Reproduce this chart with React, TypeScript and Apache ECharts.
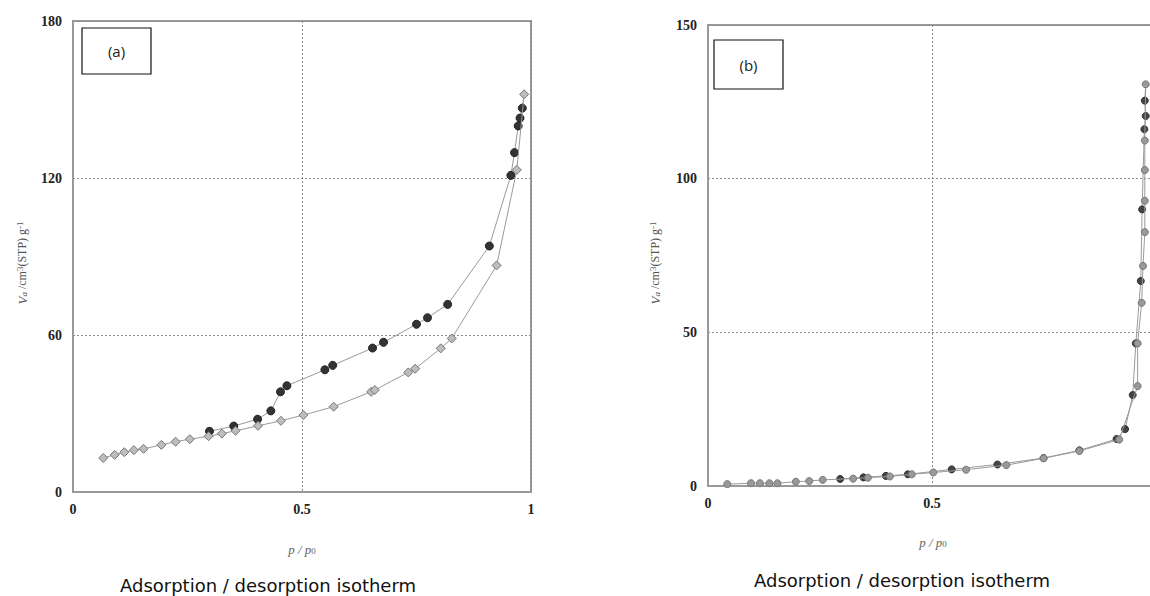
import React, { useEffect, useRef } from "react";
import * as echarts from "echarts";

// ---- Panel (a) ----
const A_ADS_P = [0.066, 0.091, 0.112, 0.133, 0.154, 0.193, 0.224, 0.255, 0.296, 0.325, 0.355, 0.404, 0.454, 0.503, 0.569, 0.651, 0.659, 0.732, 0.747, 0.803, 0.827, 0.925, 0.969, 0.985];
const A_ADS_V = [13.0, 14.2, 15.2, 16.0, 16.5, 18.0, 19.2, 20.2, 21.3, 22.3, 23.4, 25.3, 27.2, 29.4, 32.6, 38.3, 39.0, 45.7, 47.1, 54.9, 58.7, 86.6, 123.1, 152.0];
const A_DES_P = [0.985, 0.981, 0.976, 0.972, 0.964, 0.956, 0.909, 0.818, 0.774, 0.750, 0.678, 0.654, 0.567, 0.550, 0.467, 0.453, 0.432, 0.403, 0.351, 0.298];
const A_DES_V = [152.0, 146.7, 142.9, 139.9, 129.7, 121.0, 94.0, 71.7, 66.6, 64.1, 57.2, 55.0, 48.4, 46.7, 40.6, 38.3, 31.0, 27.8, 25.2, 23.2];

// ---- Panel (b) ----
const B_ADS_P = [0.043, 0.096, 0.116, 0.137, 0.155, 0.196, 0.226, 0.256, 0.324, 0.357, 0.406, 0.455, 0.503, 0.576, 0.666, 0.749, 0.829, 0.918, 0.959, 0.959, 0.968, 0.971, 0.975, 0.975, 0.975, 0.975, 0.977];
const B_ADS_V = [0.6, 0.9, 0.9, 0.9, 0.9, 1.4, 1.6, 2.0, 2.4, 2.7, 3.1, 3.8, 4.4, 5.3, 6.8, 9.0, 11.4, 15.1, 32.5, 46.4, 59.6, 71.6, 82.6, 92.8, 102.8, 112.4, 130.7];
const B_DES_P = [0.977, 0.975, 0.977, 0.974, 0.969, 0.966, 0.955, 0.948, 0.931, 0.912, 0.829, 0.749, 0.646, 0.544, 0.446, 0.397, 0.347, 0.295];
const B_DES_V = [130.7, 125.4, 120.4, 116.1, 90.0, 66.7, 46.4, 29.6, 18.5, 15.3, 11.6, 9.1, 7.0, 5.4, 3.8, 3.3, 2.8, 2.3];

const A_Y_TICKS = { min: 0, max: 180, interval: 60 };
const B_Y_TICKS = { min: 0, max: 150, interval: 50 };
const X_TICKS = { min: 0, max: 1, interval: 0.5 };

const TITLE = "Adsorption / desorption isotherm";

const zip = (xs: number[], ys: number[]) => xs.map((x, i) => [x, ys[i]]);

export default function App() {
  const ref = useRef<HTMLDivElement>(null);
  useEffect(() => {
    if (!ref.current) return;
    const chart = echarts.init(ref.current, null, { renderer: "svg" });
    const tickLabel = {
      fontFamily: "Liberation Serif",
      fontWeight: "bold" as const,
      fontSize: 14,
      color: "#222",
    };
    const split = { show: true, lineStyle: { color: "#8a8a8a", type: [2, 2] as any, width: 1 } };
    const mkX = (gridIndex: number, showMax: boolean) => ({
      type: "value" as const,
      gridIndex,
      ...X_TICKS,
      axisLine: { show: true, lineStyle: { color: "#999", width: 2 } },
      axisTick: { show: false },
      axisLabel: { ...tickLabel, margin: 10, showMaxLabel: showMax },
      splitLine: split,
    });
    const mkY = (gridIndex: number, t: any) => ({
      type: "value" as const,
      gridIndex,
      ...t,
      axisLine: { show: true, lineStyle: { color: "#999", width: 2 } },
      axisTick: { show: false },
      axisLabel: { ...tickLabel, margin: 11 },
      splitLine: split,
    });
    const line = { color: "#9a9a9a", width: 1 };
    const firstNone = (_v: any, p: any) => (p.dataIndex === 0 ? "none" : "circle");
    const yName = (x: number, y: number) => ({
      type: "text",
      x,
      y,
      rotation: Math.PI / 2,
      style: {
        text: "{v|V}{s|a}{n| /cm}{p|3}{n|(STP) g}{p|-1}",
        align: "center",
        verticalAlign: "middle",
        fill: "#555",
        rich: {
          v: { fontFamily: "Liberation Serif", fontStyle: "italic", fontSize: 13, fill: "#555", verticalAlign: "middle" },
          s: { fontFamily: "Liberation Serif", fontStyle: "italic", fontSize: 9, fill: "#555", verticalAlign: "bottom" },
          n: { fontFamily: "Liberation Serif", fontSize: 12, fill: "#555", verticalAlign: "middle" },
          p: { fontFamily: "Liberation Serif", fontSize: 9, fill: "#555", verticalAlign: "top" },
        },
      },
    });
    const xName = (x: number, y: number) => ({
      type: "text",
      x,
      y,
      style: {
        text: "{i|p / p}{s|0}",
        align: "center",
        verticalAlign: "middle",
        rich: {
          i: { fontFamily: "Liberation Serif", fontStyle: "italic", fontSize: 13, fill: "#666", verticalAlign: "middle" },
          s: { fontFamily: "Liberation Serif", fontSize: 9, fill: "#666", verticalAlign: "bottom" },
        },
      },
    });
    const title = (x: number, y: number) => ({
      type: "text",
      x,
      y,
      style: {
        text: TITLE,
        font: '18px "DejaVu Sans"',
        fill: "#111",
        align: "center",
        verticalAlign: "middle",
      },
    });
    const box = (x: number, y: number, w: number, h: number, label: string) => ({
      type: "group",
      children: [
        { type: "rect", shape: { x, y, width: w, height: h }, style: { fill: "#fff", stroke: "#111", lineWidth: 1.2 } },
        {
          type: "text",
          x: x + w / 2,
          y: y + h / 2,
          style: { text: label, font: '15px "Open Sans"', fill: "#222", align: "center", verticalAlign: "middle" },
        },
      ],
    });
    chart.setOption({
      animation: false,
      backgroundColor: "#fff",
      grid: [
        { left: 73, top: 21, width: 458, height: 471, show: true, borderColor: "#999", borderWidth: 2, backgroundColor: "transparent", outerBoundsMode: "none", containLabel: false },
        { left: 708, top: 25, width: 448, height: 461, show: true, borderColor: "#999", borderWidth: 2, backgroundColor: "transparent", outerBoundsMode: "none", containLabel: false },
      ],
      xAxis: [mkX(0, true), mkX(1, false)],
      yAxis: [mkY(0, A_Y_TICKS), mkY(1, B_Y_TICKS)],
      series: [
        {
          type: "line",
          xAxisIndex: 0,
          yAxisIndex: 0,
          data: zip(A_DES_P, A_DES_V),
          symbol: firstNone,
          symbolSize: 8,
          lineStyle: line,
          itemStyle: { color: "#333", borderColor: "#222", borderWidth: 1 },
          z: 3,
        },
        {
          type: "line",
          xAxisIndex: 0,
          yAxisIndex: 0,
          data: zip(A_ADS_P, A_ADS_V),
          symbol: "diamond",
          symbolSize: 9,
          lineStyle: line,
          itemStyle: { color: "#bdbdbd", borderColor: "#767676", borderWidth: 1 },
          z: 4,
        },
        {
          type: "line",
          xAxisIndex: 1,
          yAxisIndex: 1,
          data: zip(B_DES_P, B_DES_V),
          symbol: firstNone,
          symbolSize: 7,
          lineStyle: line,
          itemStyle: { color: "#444", borderColor: "#333", borderWidth: 1 },
          z: 3,
        },
        {
          type: "line",
          xAxisIndex: 1,
          yAxisIndex: 1,
          data: zip(B_ADS_P, B_ADS_V),
          symbol: "circle",
          symbolSize: 7,
          lineStyle: line,
          itemStyle: { color: "#999", borderColor: "#777", borderWidth: 1 },
          z: 4,
        },
      ],
      graphic: [
        box(82, 28, 69, 46, "(a)"),
        box(714, 40, 69, 49, "(b)"),
        yName(22, 263),
        yName(655, 263),
        xName(302, 549),
        xName(933, 542),
        title(268, 585),
        title(902, 580),
      ],
    });
    return () => chart.dispose();
  }, []);
  return <div ref={ref} style={{ position: "absolute", left: 0, top: 0, width: 1150, height: 596 }} />;
}
